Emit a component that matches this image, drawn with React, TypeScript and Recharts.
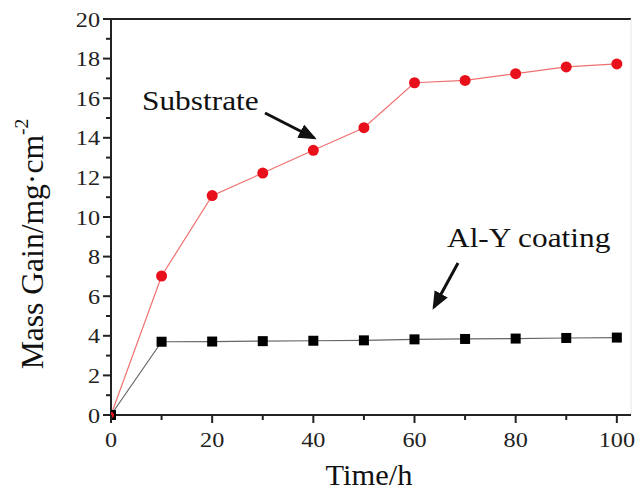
import React from "react";
import { LineChart, Line, XAxis, YAxis, ReferenceLine } from "recharts";

const times = [0, 10, 20, 30, 40, 50, 60, 70, 80, 90, 100];
const substrate = [0, 7.02, 11.08, 12.22, 13.37, 14.51, 16.78, 16.9, 17.24, 17.58, 17.73];
const coating = [0, 3.7, 3.71, 3.73, 3.75, 3.77, 3.82, 3.84, 3.86, 3.89, 3.91];
const xTicks = [0, 10, 20, 30, 40, 50, 60, 70, 80, 90, 100];
const yTicks = [0, 1, 2, 3, 4, 5, 6, 7, 8, 9, 10, 11, 12, 13, 14, 15, 16, 17, 18, 19, 20];

const data = times.map((t, i) => ({ t, substrate: substrate[i], coating: coating[i] }));

const FONT = "'Liberation Serif', 'Times New Roman', serif";
const txt: React.CSSProperties = { fontFamily: FONT };

const XTick = (props: any) => {
  const { x, y, payload } = props;
  const v = payload.value;
  const major = v % 20 === 0;
  return (
    <g>
      <line x1={x} x2={x} y1={y} y2={y + (major ? 8 : 5)} stroke="#222" strokeWidth={2} />
      {major && (
        <text
          x={0}
          y={0}
          transform={`translate(${x}, ${y + 32}) scale(1.1, 1)`}
          textAnchor="middle"
          style={{ ...txt, fontSize: 22 }}
          fill="#222"
        >
          {v}
        </text>
      )}
    </g>
  );
};

const YTick = (props: any) => {
  const { x, y, payload } = props;
  const v = payload.value;
  const major = v % 2 === 0;
  return (
    <g>
      <line x1={x - (major ? 8 : 5)} x2={x} y1={y} y2={y} stroke="#222" strokeWidth={2} />
      {major && (
        <text
          x={0}
          y={0}
          transform={`translate(${x - 11}, ${y + 7.5}) scale(1.1, 1)`}
          textAnchor="end"
          style={{ ...txt, fontSize: 22 }}
          fill="#222"
        >
          {v}
        </text>
      )}
    </g>
  );
};

const SquareDot = (props: any) => {
  const { cx, cy, index } = props;
  return <rect key={`sq-${index}`} x={cx - 5} y={cy - 5} width={10} height={10} fill="#000" />;
};

const CircleDot = (props: any) => {
  const { cx, cy, index } = props;
  if (index === 0) return <circle key={`c-${index}`} cx={cx} cy={cy} r={3} fill="#e8101a" />;
  return <circle key={`c-${index}`} cx={cx} cy={cy} r={5.5} fill="#e8101a" />;
};

export default function App() {
  return (
    <div style={{ position: "absolute", left: 0, top: 0, width: 635, height: 499, background: "#fff" }}>
      <LineChart
        width={635}
        height={499}
        data={data}
        margin={{ top: 19, right: 4, bottom: 54, left: 51 }}
      >
        <XAxis
          type="number"
          dataKey="t"
          domain={[0, 102.8]}
          ticks={xTicks}
          allowDataOverflow
          interval={0}
          tickSize={0}
          tickMargin={0}
          tickLine={false}
          axisLine={{ stroke: "#222", strokeWidth: 2 }}
          tick={<XTick />}
          height={30}
        />
        <YAxis
          type="number"
          domain={[0, 20]}
          ticks={yTicks}
          interval={0}
          tickSize={0}
          tickMargin={0}
          tickLine={false}
          axisLine={{ stroke: "#222", strokeWidth: 2 }}
          tick={<YTick />}
          width={60}
        />
        <ReferenceLine y={20} stroke="#222" strokeWidth={2} />
        <ReferenceLine x={102.8} stroke="#e6e6e6" strokeWidth={1} />
        <Line
          type="linear"
          dataKey="coating"
          stroke="#666"
          strokeWidth={1.2}
          dot={<SquareDot />}
          isAnimationActive={false}
        />
        <Line
          type="linear"
          dataKey="substrate"
          stroke="#f07070"
          strokeWidth={1.2}
          dot={<CircleDot />}
          isAnimationActive={false}
        />
      </LineChart>
      <svg
        width={635}
        height={499}
        style={{ position: "absolute", left: 0, top: 0, pointerEvents: "none" }}
      >
        <defs>
          <marker id="ah" markerWidth="6" markerHeight="5" refX="5" refY="2.5" orient="auto" markerUnits="strokeWidth">
            <path d="M0,0 L6,2.5 L0,5 Z" fill="#111" />
          </marker>
        </defs>
        <text x={0} y={0} transform="translate(142, 110) scale(1.12, 1)" style={{ ...txt, fontSize: 28 }} fill="#111">
          Substrate
        </text>
        <line x1={265} y1={113} x2={314} y2={138} stroke="#111" strokeWidth={3} markerEnd="url(#ah)" />
        <text x={0} y={0} transform="translate(447, 247) scale(1.12, 1)" style={{ ...txt, fontSize: 28 }} fill="#111">
          Al-Y coating
        </text>
        <line x1={458} y1={263} x2={434} y2={307} stroke="#111" strokeWidth={3} markerEnd="url(#ah)" />
        <text
          x={0}
          y={0}
          transform="translate(43, 244) rotate(-90) scale(1.09, 1.1)"
          textAnchor="middle"
          style={{ ...txt, fontSize: 29 }}
          fill="#111"
        >
          Mass Gain/mg·cm
          <tspan dy={-14} style={{ fontSize: 18 }}>-2</tspan>
        </text>
        <text x={0} y={0} transform="translate(369, 485) scale(1.05, 1)" textAnchor="middle" style={{ ...txt, fontSize: 29 }} fill="#111">
          Time/h
        </text>
      </svg>
    </div>
  );
}
